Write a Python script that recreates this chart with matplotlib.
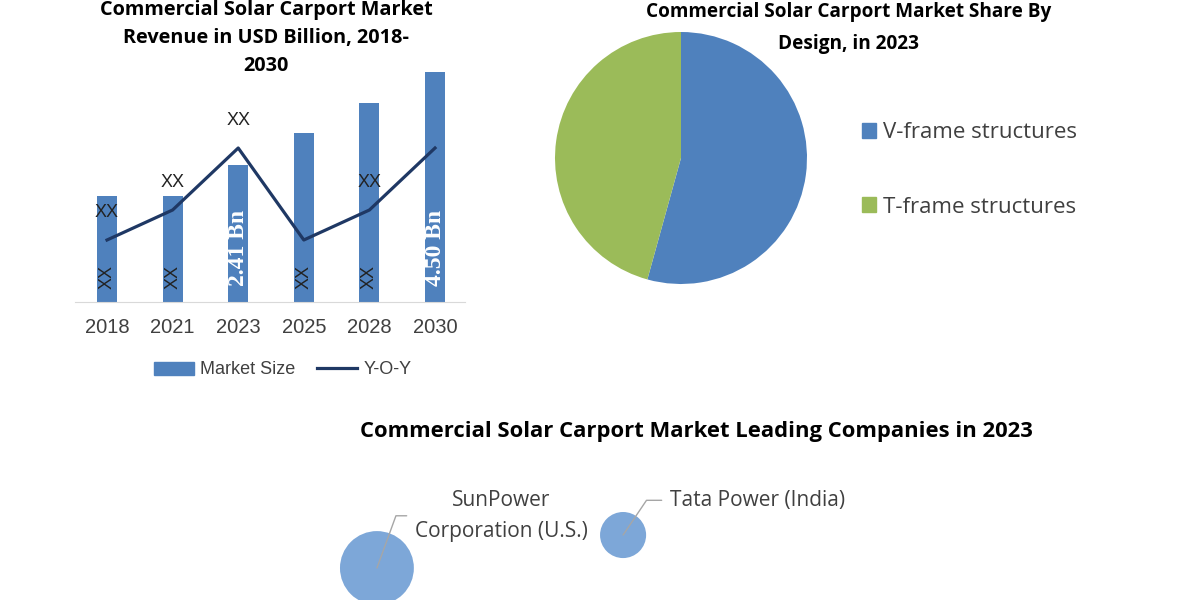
import matplotlib.pyplot as plt
from matplotlib.patches import Patch
from matplotlib.lines import Line2D

# bar + line chart
years = ["2018", "2021", "2023", "2025", "2028", "2030"]
market_size = [2.07, 2.07, 2.68, 3.31, 3.89, 4.50]
yoy = [6.2, 9.2, 15.4, 6.2, 9.2, 15.4]
yoy_labels = ["XX", "XX", "XX", "", "XX", ""]
bar_labels = ["XX", "XX", "2.41 Bn", "XX", "XX", "4.50 Bn"]

# pie
designs = ["V-frame structures", "T-frame structures"]
design_share = [54.3, 45.7]

# bubbles
companies = ["SunPower\nCorporation (U.S.)", "Tata Power (India)"]
bubble_x = [1.38, 8.62]
bubble_y = [0.93, 1.89]
bubble_val = [3.6, 1.4]

BLUE = "#4F81BD"
GREEN = "#9BBB59"
NAVY = "#1F3864"
BUBBLE = "#7DA7D8"
TITLE_FONT = ["Open Sans", "DejaVu Sans"]


def rect(x0, y0, x1, y1):
    # pixel box (top-left origin) -> figure fraction
    return [x0 / 1200, 1 - y1 / 600, (x1 - x0) / 1200, (y1 - y0) / 600]


fig = plt.figure(figsize=(12, 6), dpi=100)

# ---- left: revenue chart
ax1 = fig.add_axes(rect(75, 60, 465, 302))
xs = range(len(years))
ax1.bar(xs, market_size, width=0.305, color=BLUE, zorder=2)
ax1.set_xlim(-0.488, 5.457)
ax1.set_ylim(0, 4.735)
ax1.set_xticks(list(xs))
ax1.set_xticklabels(years, fontsize=14.5, color="#404040", family="Liberation Sans")
ax1.tick_params(axis="x", length=0, pad=11.5)
ax1.set_yticks([])
for s in ["top", "left", "right"]:
    ax1.spines[s].set_visible(False)
ax1.spines["bottom"].set_color("#D9D9D9")

for i, lab in enumerate(bar_labels):
    if lab == "XX":
        ax1.annotate(lab, (i, 0), xytext=(0, 18), textcoords="offset points",
                     rotation=90, ha="center", va="center", fontsize=13,
                     family="Liberation Sans", color="#222222")
    else:
        ax1.annotate(lab, (i, 0), xytext=(0, 39), textcoords="offset points",
                     rotation=90, ha="center", va="center", fontsize=17,
                     family="Liberation Serif", weight="bold", color="white")

ax1b = ax1.twinx()
ax1b.plot(list(xs), yoy, color=NAVY, lw=2.3, zorder=3)
ax1b.set_ylim(0, 24.2)
ax1b.axis("off")
for i, lab in enumerate(yoy_labels):
    if lab:
        ax1b.annotate(lab, (i, yoy[i]), xytext=(0, 19.5), textcoords="offset points",
                      ha="center", va="center", fontsize=13,
                      family="Liberation Sans", color="#222222")

fig.text(266 / 1200, 1 - 38 / 600,
         "Commercial Solar Carport Market\nRevenue in USD Billion, 2018-\n2030",
         ha="center", va="center", fontsize=14.3, weight="bold",
         family=TITLE_FONT, linespacing=1.55)

fig.legend(handles=[Patch(color=BLUE, label="Market Size"),
                    Line2D([], [], color=NAVY, lw=2.3, label="Y-O-Y")],
           loc="center", bbox_to_anchor=(283 / 1200, 1 - 370 / 600), ncol=2,
           frameon=False, prop={"family": "Liberation Sans", "size": 13},
           handlelength=2.2, handletextpad=0.35, columnspacing=1.2,
           labelcolor="#404040")

# ---- right: pie
ax2 = fig.add_axes(rect(555, 32, 807, 284))
ax2.pie(design_share, colors=[BLUE, GREEN], startangle=90, counterclock=False,
        radius=1, wedgeprops={"linewidth": 0})
ax2.set_xlim(-1, 1)
ax2.set_ylim(-1, 1)

fig.text(849 / 1200, 1 - 28 / 600,
         "Commercial Solar Carport Market Share By\nDesign, in 2023",
         ha="center", va="center", fontsize=13.7, weight="bold",
         family=TITLE_FONT, linespacing=1.8)

fig.legend(handles=[Patch(color=c, label=l) for c, l in zip([BLUE, GREEN], designs)],
           loc="center left", bbox_to_anchor=(842 / 1200, 1 - 170 / 600),
           frameon=False, prop={"family": TITLE_FONT, "size": 16},
           handlelength=0.65, handleheight=0.65, handletextpad=0.3,
           labelspacing=2.4, labelcolor="#404040")

# ---- bottom: leading companies
fig.text(696 / 1200, 1 - 431 / 600,
         "Commercial Solar Carport Market Leading Companies in 2023",
         ha="center", va="center", fontsize=15.8, weight="bold", family=TITLE_FONT)

ax3 = fig.add_axes(rect(330, 490, 670, 600))
ax3.scatter(bubble_x, bubble_y, s=[v * 786 for v in bubble_val], color=BUBBLE,
            edgecolors="none", zorder=2, clip_on=False)
ax3.set_xlim(0, 10)
ax3.set_ylim(0, 3.2)
ax3.axis("off")

ax3.annotate(companies[0], (bubble_x[0], bubble_y[0]), xytext=(2.5, 2.45),
             ha="left", va="center", fontsize=15, family=TITLE_FONT,
             color="#404040", multialignment="center", linespacing=1.65,
             arrowprops=dict(arrowstyle="-", color="#A6A6A6", lw=1,
                             relpos=(0, 0.5), shrinkA=4, shrinkB=0,
                             connectionstyle="angle,angleA=0,angleB=70"))
ax3.annotate(companies[1], (bubble_x[1], bubble_y[1]), xytext=(10, 2.9),
             ha="left", va="center", fontsize=15, family=TITLE_FONT,
             color="#404040", annotation_clip=False,
             arrowprops=dict(arrowstyle="-", color="#A6A6A6", lw=1,
                             relpos=(0, 0.5), shrinkA=4, shrinkB=0,
                             connectionstyle="angle,angleA=0,angleB=56"))

fig.savefig("out.png", dpi=100, facecolor="white")
